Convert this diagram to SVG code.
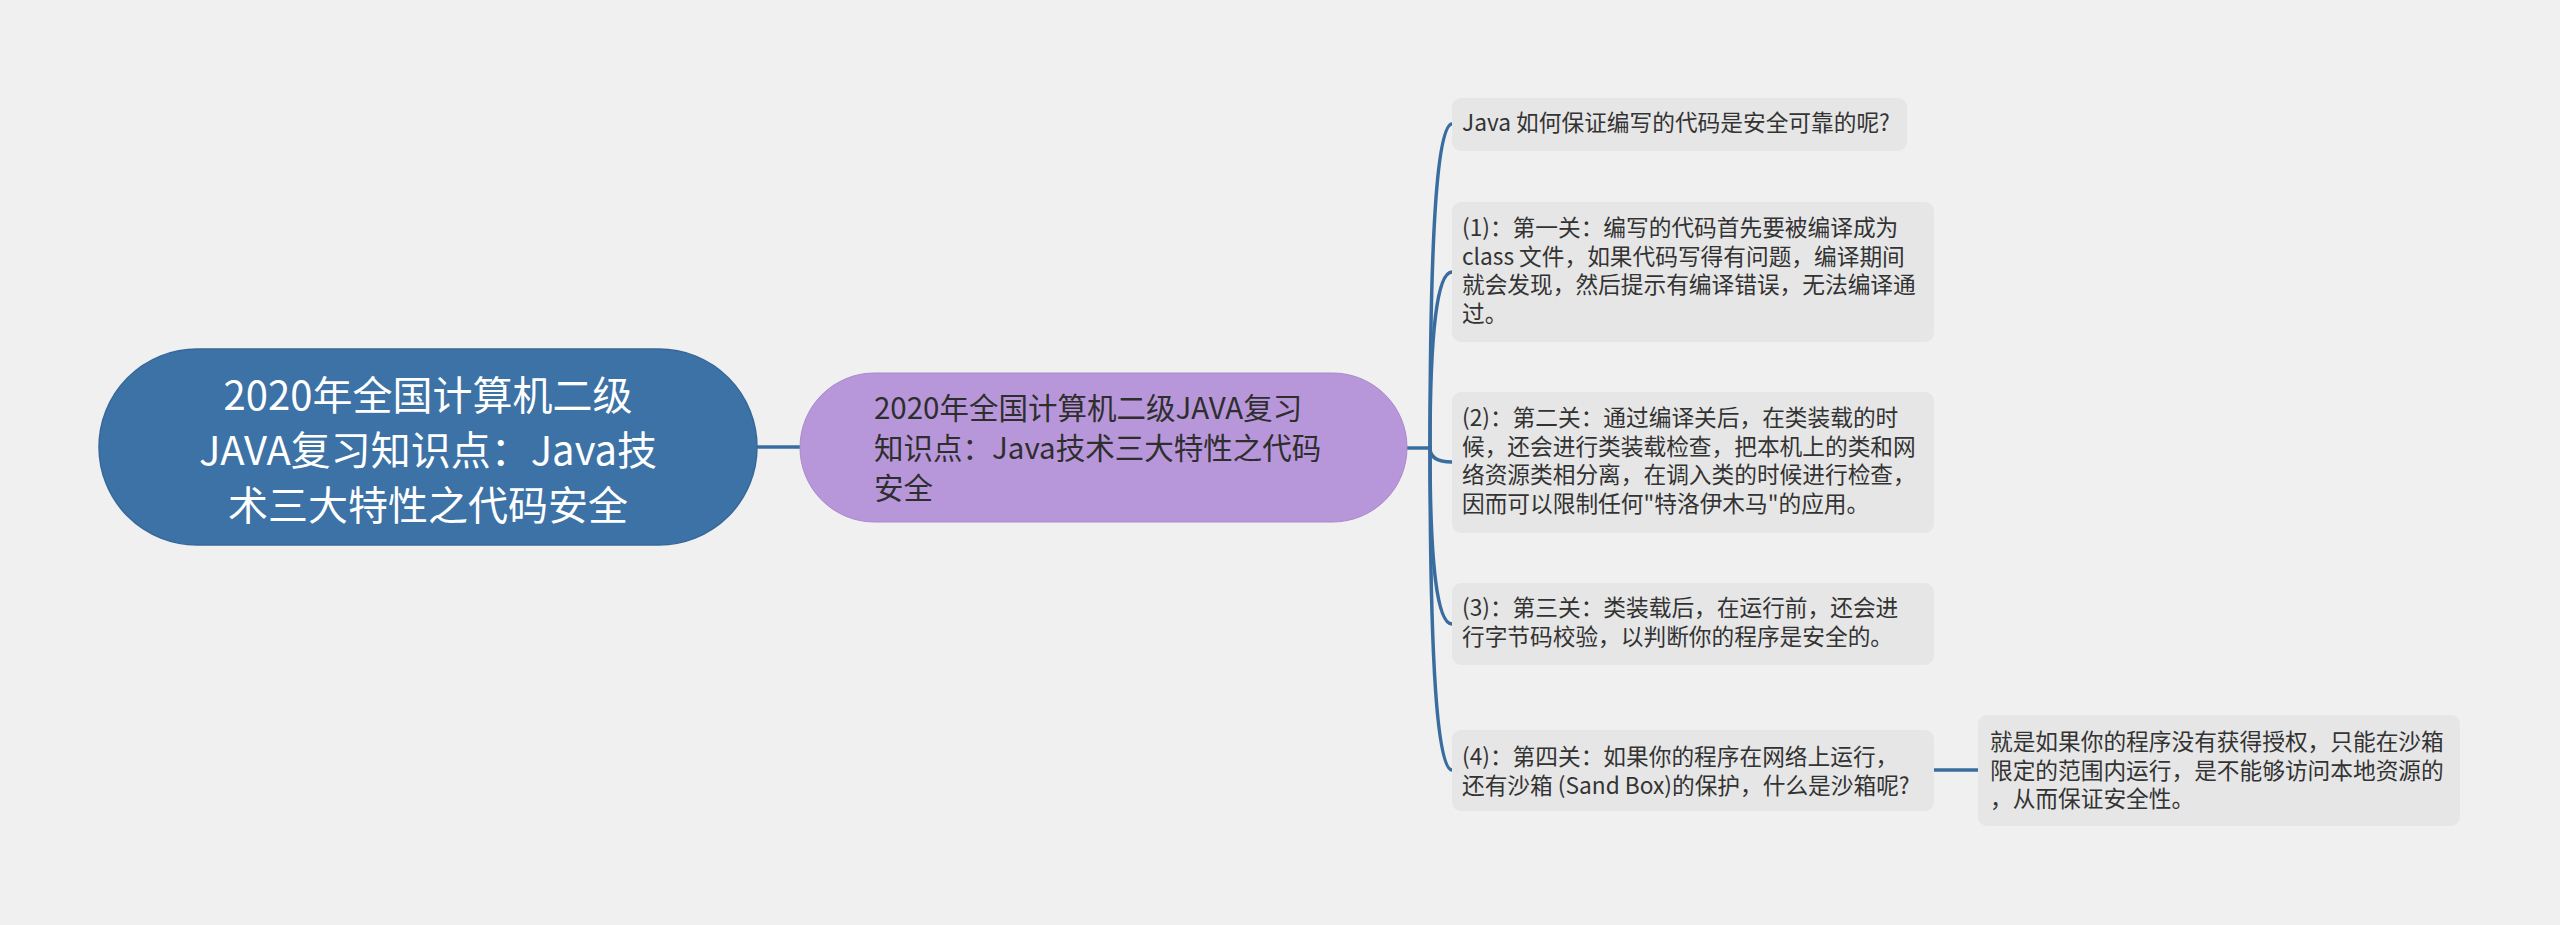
<svg xmlns="http://www.w3.org/2000/svg" width="2560" height="925" viewBox="0 0 2560 925">
<style>
.bg{fill:#f0f0f0}
.conn{fill:none;stroke:#3a6d9f;stroke-width:3.5;stroke-linecap:round}
.root{fill:#3c72a5;stroke:#37689a;stroke-width:1.5}
.main{fill:#b797d9;stroke:#a988cc;stroke-width:1}
.box{fill:#e6e6e6}
.t{font-family:"Noto Sans CJK SC","Noto Sans",sans-serif}
.rt{font-size:40px;fill:#ffffff;text-anchor:middle}
.mt{font-size:29.5px;fill:#2e2e2e}
.ct{font-size:22.7px;fill:#333333}
</style>
<rect class="bg" x="0" y="0" width="2560" height="925"/>
<g id="connectors">
<path class="conn" d="M758 447 L800 447"/>
<path class="conn" d="M1407 448 L1430 448"/>
<path class="conn" d="M1430 448 Q1430 124 1452 124"/>
<path class="conn" d="M1430 448 Q1430 272 1452 272"/>
<path class="conn" d="M1430 448 Q1430 462 1452 462"/>
<path class="conn" d="M1430 448 Q1430 624 1452 624"/>
<path class="conn" d="M1430 448 Q1430 770 1452 770"/>
<path class="conn" d="M1934 770 L1978 770"/>
</g>
<g id="root">
<rect class="root" x="99" y="349" width="658" height="196" rx="98"/>
<text class="t rt" x="428" y="410">2020年全国计算机二级</text>
<text class="t rt" x="428" y="465">JAVA复习知识点：Java技</text>
<text class="t rt" x="428" y="520">术三大特性之代码安全</text>
</g>
<g id="main">
<rect class="main" x="800" y="373" width="607" height="149" rx="74.5"/>
<text class="t mt" x="874" y="419">2020年全国计算机二级JAVA复习</text>
<text class="t mt" x="874" y="459">知识点：Java技术三大特性之代码</text>
<text class="t mt" x="874" y="499">安全</text>
</g>
<g id="c1">
<rect class="box" x="1452" y="98" width="455" height="53" rx="9"/>
<text class="t ct" x="1462" y="131">Java 如何保证编写的代码是安全可靠的呢?</text>
</g>
<g id="c2">
<rect class="box" x="1452" y="202" width="482" height="140" rx="9"/>
<text class="t ct" x="1462" y="236">(1)：第一关：编写的代码首先要被编译成为</text>
<text class="t ct" x="1462" y="264.5">class 文件，如果代码写得有问题，编译期间</text>
<text class="t ct" x="1462" y="293">就会发现，然后提示有编译错误，无法编译通</text>
<text class="t ct" x="1462" y="321.5">过。</text>
</g>
<g id="c3">
<rect class="box" x="1452" y="392" width="482" height="141" rx="9"/>
<text class="t ct" x="1462" y="426">(2)：第二关：通过编译关后，在类装载的时</text>
<text class="t ct" x="1462" y="454.5">候，还会进行类装载检查，把本机上的类和网</text>
<text class="t ct" x="1462" y="483">络资源类相分离，在调入类的时候进行检查，</text>
<text class="t ct" x="1462" y="511.5">因而可以限制任何"特洛伊木马"的应用。</text>
</g>
<g id="c4">
<rect class="box" x="1452" y="583" width="482" height="82" rx="9"/>
<text class="t ct" x="1462" y="616">(3)：第三关：类装载后，在运行前，还会进</text>
<text class="t ct" x="1462" y="644.5">行字节码校验，以判断你的程序是安全的。</text>
</g>
<g id="c5">
<rect class="box" x="1452" y="730" width="482" height="81" rx="9"/>
<text class="t ct" x="1462" y="765">(4)：第四关：如果你的程序在网络上运行，</text>
<text class="t ct" x="1462" y="793.5">还有沙箱 (Sand Box)的保护，什么是沙箱呢?</text>
</g>
<g id="c6">
<rect class="box" x="1978" y="715" width="482" height="111" rx="9"/>
<text class="t ct" x="1990" y="750">就是如果你的程序没有获得授权，只能在沙箱</text>
<text class="t ct" x="1990" y="778.5">限定的范围内运行，是不能够访问本地资源的</text>
<text class="t ct" x="1990" y="807">，从而保证安全性。</text>
</g>
</svg>
